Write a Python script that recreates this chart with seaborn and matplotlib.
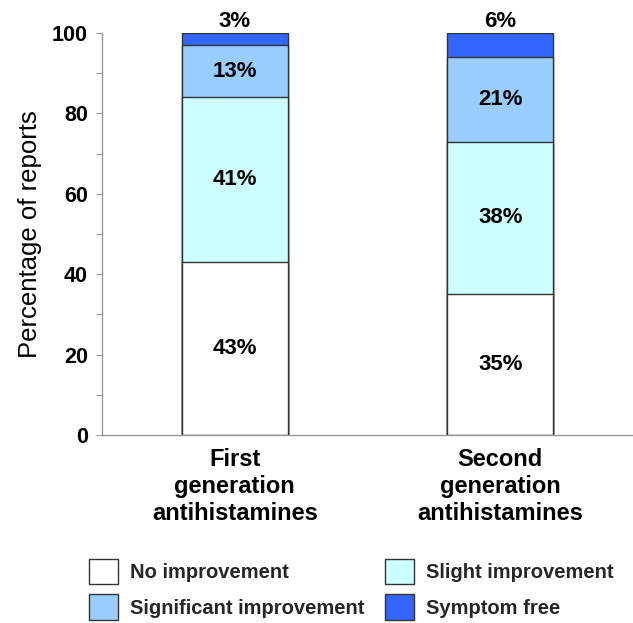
import matplotlib
matplotlib.use("Agg")
import matplotlib.pyplot as plt
import seaborn as sns
import numpy as np
import pandas as pd

# Data
categories = ["First\ngeneration\nantihistamines", "Second\ngeneration\nantihistamines"]
levels = ["No improvement", "Slight improvement", "Significant improvement", "Symptom free"]
no_improvement = [43, 35]
slight_improvement = [41, 38]
significant_improvement = [13, 21]
symptom_free = [3, 6]
level_colors = ["#FFFFFF", "#CCFFFF", "#99CCFF", "#3366FF"]

values = np.array([no_improvement, slight_improvement, significant_improvement, symptom_free], dtype=float)
tops = values.cumsum(axis=0)
bottoms = tops - values

sns.set_theme(style="white")
plt.rcParams["font.family"] = ["Liberation Sans", "DejaVu Sans"]

fig = plt.figure(figsize=(6.33, 6.23), dpi=100)
ax = fig.add_axes([102 / 633, 1 - 435 / 623, 1 - 102 / 633, (435 - 33) / 623])

# Stacked bars: draw cumulative heights from the top layer down so each
# lower layer covers the part of the taller bar beneath it.
for i in reversed(range(len(levels))):
    df = pd.DataFrame({"category": categories, "height": tops[i]})
    sns.barplot(data=df, x="category", y="height", order=categories,
                color=level_colors[i], saturation=1, width=0.4,
                edgecolor="#333333", linewidth=1.0, ax=ax, label=levels[i])

# Segment labels
for j in range(len(categories)):
    for i in range(len(levels)):
        txt = f"{int(values[i, j])}%"
        if i == len(levels) - 1:
            ax.annotate(txt, xy=(j, tops[i, j]), xytext=(0, 0.5),
                        textcoords="offset points", ha="center", va="bottom",
                        fontsize=16, fontweight="bold", color="black",
                        annotation_clip=False)
        else:
            ax.text(j, (bottoms[i, j] + tops[i, j]) / 2, txt, ha="center",
                    va="center", fontsize=16, fontweight="bold", color="black")

ax.set_xlim(-0.5, 1.5)
ax.set_ylim(0, 100)
ax.set_yticks([0, 20, 40, 60, 80, 100])
ax.set_yticks([10, 30, 50, 70, 90], minor=True)
ax.tick_params(axis="y", which="both", direction="out", length=4, width=0.8,
               color="#999999", left=True, labelsize=15.5, pad=6)
ax.tick_params(axis="x", length=0, labelsize=17, pad=9)
for lab in ax.get_yticklabels() + ax.get_xticklabels():
    lab.set_fontweight("bold")
    lab.set_color("black")
for lab in ax.get_xticklabels():
    lab.set_linespacing(1.24)

ax.set_xlabel("")
ax.set_ylabel("Percentage of reports", fontsize=18.5, color="black", labelpad=7)

for side in ["top", "right"]:
    ax.spines[side].set_visible(False)
for side in ["left", "bottom"]:
    ax.spines[side].set_color("#999999")
    ax.spines[side].set_linewidth(1.0)

# Legend (two columns, filled column by column), placed below the axes
h, l = ax.get_legend_handles_labels()
if ax.get_legend() is not None:
    ax.get_legend().remove()
lookup = dict(zip(l, h))
order = ["No improvement", "Significant improvement", "Slight improvement", "Symptom free"]
leg = fig.legend([lookup[k] for k in order], order, ncol=2, loc="upper left",
                 bbox_to_anchor=(89 / 633, 1 - 559 / 623), frameon=False,
                 prop={"weight": "bold", "size": 14.5}, handlelength=1.45,
                 handleheight=1.55, handletextpad=0.6, columnspacing=1.0,
                 labelspacing=0.5, borderpad=0, borderaxespad=0)

fig.savefig("out.png", dpi=100, facecolor="white")
